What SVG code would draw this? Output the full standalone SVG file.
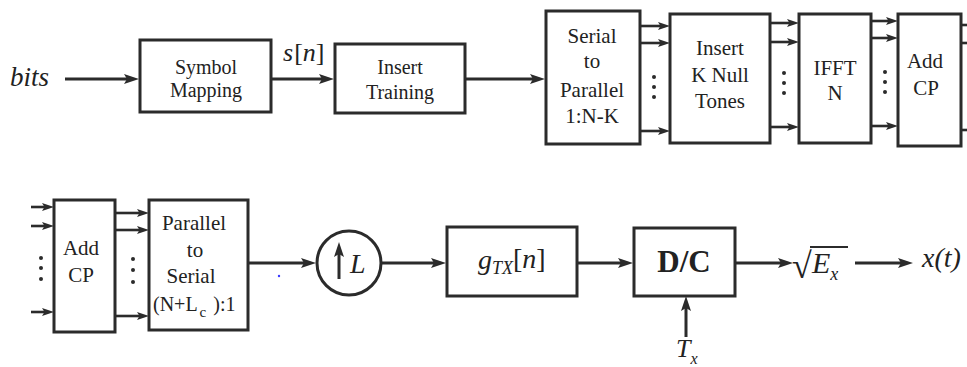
<svg xmlns="http://www.w3.org/2000/svg" width="967" height="367" viewBox="0 0 967 367">
<style>
  .box { fill: #fff; stroke: #2b2b2b; stroke-width: 3; }
  .ln { fill: none; stroke: #2b2b2b; stroke-width: 3; }
  .sl { fill: none; stroke: #2b2b2b; stroke-width: 2.6; }
  .dot { fill: #2b2b2b; }
  .t { font-family: "Liberation Serif", Tinos, "Times New Roman", Times, "DejaVu Serif", serif; fill: #222; }
  .bt { font-size: 20px; text-anchor: middle; }
  .bt2 { font-size: 21px; text-anchor: middle; }
  .it { font-style: italic; }
</style>
<defs>
  <marker id="ah" markerUnits="userSpaceOnUse" markerWidth="16" markerHeight="11" viewBox="0 0 16 11" refX="9" refY="5.5" orient="auto">
    <path d="M0,0.5 L15,5.5 L0,10.5 L3,5.5 Z" fill="#2b2b2b"/>
  </marker>
  <marker id="sh" markerUnits="userSpaceOnUse" markerWidth="13" markerHeight="9" viewBox="0 0 13 9" refX="6" refY="4.5" orient="auto">
    <path d="M0,0.5 L12,4.5 L0,8.5 L2.5,4.5 Z" fill="#2b2b2b"/>
  </marker>
</defs>

<g id="connectors">
  <line class="ln" x1="65" y1="79" x2="133" y2="79" marker-end="url(#ah)"/>
  <line class="ln" x1="271" y1="79" x2="328" y2="79" marker-end="url(#ah)"/>
  <line class="ln" x1="465" y1="79" x2="539" y2="79" marker-end="url(#ah)"/>
  <line class="sl" x1="640" y1="26" x2="664" y2="26" marker-end="url(#sh)"/>
  <line class="sl" x1="640" y1="43" x2="664" y2="43" marker-end="url(#sh)"/>
  <line class="sl" x1="640" y1="131" x2="664" y2="131" marker-end="url(#sh)"/>
  <line class="sl" x1="770" y1="23" x2="793" y2="23" marker-end="url(#sh)"/>
  <line class="sl" x1="770" y1="42" x2="793" y2="42" marker-end="url(#sh)"/>
  <line class="sl" x1="770" y1="127" x2="793" y2="127" marker-end="url(#sh)"/>
  <line class="sl" x1="871" y1="21" x2="892" y2="21" marker-end="url(#sh)"/>
  <line class="sl" x1="871" y1="38" x2="892" y2="38" marker-end="url(#sh)"/>
  <line class="sl" x1="871" y1="126" x2="892" y2="126" marker-end="url(#sh)"/>
  <line class="sl" x1="961" y1="25" x2="967" y2="25"/>
  <line class="sl" x1="961" y1="43" x2="967" y2="43"/>
  <line class="sl" x1="961" y1="130" x2="967" y2="130"/>
  <circle class="dot" cx="654" cy="77" r="2"/>
  <circle class="dot" cx="654" cy="87" r="2"/>
  <circle class="dot" cx="654" cy="97" r="2"/>
  <circle class="dot" cx="784" cy="73" r="2"/>
  <circle class="dot" cx="784" cy="83" r="2"/>
  <circle class="dot" cx="784" cy="93" r="2"/>
  <circle class="dot" cx="885" cy="72" r="2"/>
  <circle class="dot" cx="885" cy="82" r="2"/>
  <circle class="dot" cx="885" cy="92" r="2"/>
  <line class="sl" x1="31" y1="207" x2="48" y2="207" marker-end="url(#sh)"/>
  <line class="sl" x1="31" y1="226" x2="48" y2="226" marker-end="url(#sh)"/>
  <line class="sl" x1="31" y1="312" x2="48" y2="312" marker-end="url(#sh)"/>
  <line class="sl" x1="115" y1="213" x2="143" y2="213" marker-end="url(#sh)"/>
  <line class="sl" x1="115" y1="230" x2="143" y2="230" marker-end="url(#sh)"/>
  <line class="sl" x1="115" y1="316" x2="143" y2="316" marker-end="url(#sh)"/>
  <circle class="dot" cx="41" cy="258" r="2"/>
  <circle class="dot" cx="41" cy="268" r="2"/>
  <circle class="dot" cx="41" cy="279" r="2"/>
  <circle class="dot" cx="133" cy="259" r="2"/>
  <circle class="dot" cx="133" cy="270" r="2"/>
  <circle class="dot" cx="133" cy="282" r="2"/>
  <line class="ln" x1="248" y1="263" x2="310" y2="263" marker-end="url(#ah)"/>
  <line class="ln" x1="381" y1="263" x2="440" y2="263" marker-end="url(#ah)"/>
  <line class="ln" x1="577" y1="263" x2="627" y2="263" marker-end="url(#ah)"/>
  <line class="ln" x1="735" y1="263" x2="787" y2="263" marker-end="url(#ah)"/>
  <line class="ln" x1="855" y1="263" x2="907" y2="263" marker-end="url(#ah)"/>
  <line class="ln" x1="686" y1="337" x2="686" y2="302" marker-end="url(#ah)"/>
  <circle cx="279" cy="276" r="1.2" fill="#3a3aff"/>
</g>

<g id="bits-label"><text class="t it" x="10" y="86" font-size="27">bits</text></g>
<g id="sn-label"><text class="t" x="283" y="61" font-size="26"><tspan class="it">s</tspan><tspan dx="1">[</tspan><tspan class="it">n</tspan><tspan>]</tspan></text></g>

<g id="symbol-mapping">
  <rect class="box" x="140" y="40" width="131" height="72"/>
  <text class="t bt" x="206" y="74">Symbol</text>
  <text class="t bt" x="206" y="97">Mapping</text>
</g>
<g id="insert-training">
  <rect class="box" x="335" y="44" width="130" height="69"/>
  <text class="t bt" x="400" y="74">Insert</text>
  <text class="t bt" x="400" y="99">Training</text>
</g>
<g id="serial-to-parallel">
  <rect class="box" x="546" y="11" width="94" height="133"/>
  <text class="t bt2" x="592" y="43">Serial</text>
  <text class="t bt2" x="592" y="68">to</text>
  <text class="t bt2" x="592" y="97">Parallel</text>
  <text class="t bt2" x="592" y="123">1:N-K</text>
</g>
<g id="insert-null-tones">
  <rect class="box" x="670" y="14" width="100" height="129"/>
  <text class="t bt2" x="720" y="55">Insert</text>
  <text class="t bt2" x="720" y="82">K Null</text>
  <text class="t bt2" x="720" y="108">Tones</text>
</g>
<g id="ifft">
  <rect class="box" x="799" y="14" width="72" height="129"/>
  <text class="t bt2" x="835" y="75">IFFT</text>
  <text class="t bt2" x="835" y="100">N</text>
</g>
<g id="add-cp-top">
  <rect class="box" x="898" y="14" width="63" height="132"/>
  <text class="t bt2" x="925" y="68">Add</text>
  <text class="t bt2" x="926" y="95">CP</text>
</g>

<g id="add-cp-bottom">
  <rect class="box" x="54" y="200" width="61" height="132"/>
  <text class="t bt2" x="81" y="255">Add</text>
  <text class="t bt2" x="81" y="282">CP</text>
</g>
<g id="parallel-to-serial">
  <rect class="box" x="149" y="200" width="99" height="130"/>
  <text class="t bt2" x="194" y="230">Parallel</text>
  <text class="t bt2" x="195" y="257">to</text>
  <text class="t bt2" x="191" y="283">Serial</text>
  <text class="t" x="153" y="311" font-size="20">(N+L<tspan dx="2" dy="6" font-size="15">c</tspan><tspan dx="7" dy="-6">):1</tspan></text>
</g>
<g id="upsampler">
  <circle cx="349" cy="263" r="32" fill="#fff" stroke="#2b2b2b" stroke-width="3"/>
  <line class="ln" x1="339" y1="279" x2="339" y2="248" marker-end="url(#ah)"/>
  <text class="t it" x="350" y="273" font-size="28">L</text>
</g>
<g id="pulse-shaping">
  <rect class="box" x="447" y="227" width="130" height="69"/>
  <text class="t" x="478" y="269" font-size="28"><tspan class="it">g</tspan><tspan class="it" font-size="18" dy="5">TX</tspan><tspan dy="-6">[</tspan><tspan class="it">n</tspan><tspan>]</tspan></text>
</g>
<g id="dc-converter">
  <rect class="box" x="634" y="228" width="101" height="68"/>
  <text class="t" x="684" y="272" font-size="31" font-weight="bold" text-anchor="middle">D/C</text>
</g>
<g id="tx-label"><text class="t it" x="676" y="357" font-size="26">T<tspan font-size="16" dy="7">x</tspan></text></g>
<g id="gain">
  <text class="t" x="792" y="278" font-size="36">√</text>
  <line x1="810" y1="247" x2="848" y2="247" stroke="#2b2b2b" stroke-width="2"/>
  <text class="t it" x="812" y="273" font-size="30">E<tspan font-size="18" dy="7">x</tspan></text>
</g>
<g id="output-label"><text class="t it" x="922" y="267" font-size="28">x(t)</text></g>
</svg>
